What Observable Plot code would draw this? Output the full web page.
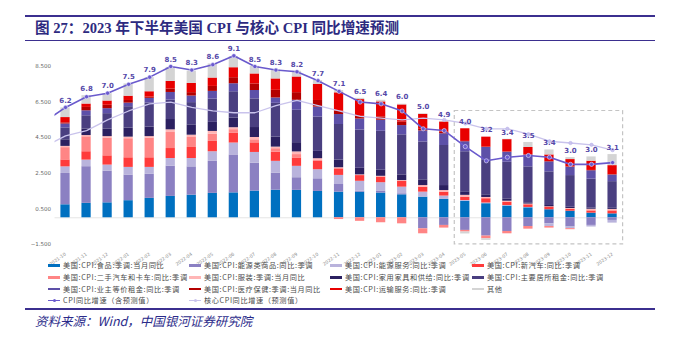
<!DOCTYPE html>
<html><head><meta charset="utf-8">
<script src="https://cdn.jsdelivr.net/npm/d3@7"></script>
<script src="https://cdn.jsdelivr.net/npm/@observablehq/plot@0.6"></script>
<style>
body{margin:0;background:#fff;}
#wrap{position:relative;width:685px;height:348px;overflow:hidden;font-family:"Noto Sans CJK SC",sans-serif;}
.hline{position:absolute;left:25px;width:630px;background:#3b2f8f;}
#title{position:absolute;left:35px;top:20px;font-weight:bold;font-size:14.6px;font-family:"Liberation Serif","Noto Sans CJK SC",serif;color:#2d2a80;white-space:nowrap;line-height:16px;}
#chart{position:absolute;left:0;top:42px;}
.lg{position:absolute;font-size:7.2px;letter-spacing:0.6px;color:#4a4a4a;white-space:nowrap;line-height:8px;}
.sw{position:absolute;width:12px;}
#src{position:absolute;left:35px;top:313px;font-size:12.5px;font-style:italic;color:#2b2b8a;white-space:nowrap;line-height:16px;}
</style></head><body>
<div id="wrap">
  <div class="hline" style="top:15px;height:1.6px"></div>
  <div id="title">图 27：2023 年下半年美国 CPI 与核心 CPI 同比增速预测</div>
  <div class="hline" style="top:39.5px;height:1.6px"></div>
  <div id="chart"></div>
  <div id="legend"></div>
  <div class="hline" style="top:308px;height:1.8px"></div>
  <div id="src">资料来源：Wind，中国银河证券研究院</div>
</div>
<script>
const months = ["2021-10","2021-11","2021-12","2022-01","2022-02","2022-03","2022-04","2022-05","2022-06","2022-07","2022-08","2022-09","2022-10","2022-11","2022-12","2023-01","2023-02","2023-03","2023-04","2023-05","2023-06","2023-07","2023-08","2023-09","2023-10","2023-11","2023-12"];
const seriesNames = ["美国:CPI:食品:季调:当月同比","美国:CPI:能源类商品:同比:季调","美国:CPI:能源服务:同比:季调","美国:CPI:新汽车:同比:季调","美国:CPI:二手汽车和卡车:同比:季调","美国:CPI:服装:季调:当月同比","美国:CPI:家用家具和供给:同比:季调","美国:CPI:主要居所租金:同比:季调","美国:CPI:业主等价租金:同比:季调","美国:CPI:医疗保健:季调:当月同比","美国:CPI:运输服务:同比:季调","其他"];
const seriesColors = ["#0070c0","#8b80c2","#b9b3dc","#ff3b3b","#ff8585","#ffb6b6","#2b2060","#4a3f80","#5d50a8","#b40000","#e80000","#d4d4d4"];
const food = [0.73,0.81,0.84,0.96,1.09,1.20,1.27,1.37,1.40,1.50,1.55,1.54,1.48,1.44,1.44,1.39,1.29,1.16,1.03,0.92,0.79,0.66,0.56,0.45,0.37,0.26,0.22];
const energyGoods = [1.76,2.06,1.78,1.44,1.35,1.70,1.59,1.80,2.13,1.57,0.96,0.71,0.71,0.43,0.05,0.09,0.06,-0.62,-0.43,-0.71,-1.03,-0.77,-0.49,-0.34,-0.52,-0.43,-0.15];
const energyServices = [0.37,0.37,0.34,0.43,0.39,0.43,0.47,0.54,0.67,0.60,0.66,0.64,0.51,0.51,0.56,0.49,0.37,0.28,0.19,0.05,0.04,0.03,0.02,-0.15,-0.09,-0.09,-0.15];
const newCars = [0.39,0.47,0.52,0.54,0.54,0.56,0.62,0.58,0.56,0.54,0.52,0.47,0.47,0.37,0.32,0.32,0.32,0.28,0.22,0.19,0.24,0.19,0.15,0.15,0.11,0.11,0.15];
const usedCars = [0.69,0.84,0.99,1.07,1.10,0.90,0.56,0.41,0.19,0.17,0.19,0.19,0.06,-0.10,-0.20,-0.28,-0.34,-0.28,-0.15,-0.09,-0.15,-0.13,-0.15,-0.09,-0.06,0.07,0.07];
const apparel = [0.07,0.07,0.09,0.09,0.09,0.15,0.13,0.15,0.11,0.13,0.09,0.15,0.09,0.06,0.04,0.04,0.05,0.09,0.09,0.10,0.07,0.05,0.04,0.02,0.04,0.04,0.03];
const furnishings = [0.37,0.36,0.43,0.51,0.54,0.58,0.58,0.51,0.54,0.56,0.56,0.52,0.41,0.43,0.37,0.34,0.32,0.32,0.28,0.20,0.15,0.13,0.07,0.07,0.07,0.06,0.06];
const rent = [0.67,0.75,0.86,1.20,1.35,1.09,1.25,1.31,1.48,1.61,1.90,1.82,1.93,2.00,2.15,2.19,2.25,2.13,2.25,2.25,1.97,2.06,2.02,1.89,1.78,1.63,1.50];
const oer = [0.22,0.28,0.28,0.20,0.26,0.43,0.37,0.43,0.45,0.47,0.30,0.56,0.56,0.56,0.62,0.62,0.52,0.62,0.66,0.56,0.69,0.56,0.66,0.56,0.47,0.47,0.37];
const medical = [0.06,0.19,0.19,0.15,0.07,0.19,0.19,0.28,0.34,0.37,0.43,0.43,0.37,0.19,0.15,0.19,0.19,0.09,0.10,0.02,0.02,0.02,0.02,0.02,0.02,0.02,0.02];
const transport = [0.30,0.19,0.24,0.24,0.30,0.43,0.52,0.47,0.56,0.56,0.64,0.88,0.90,1.03,0.94,0.84,0.97,0.84,0.56,0.71,0.56,0.69,0.41,0.37,0.41,0.52,0.51];
const other = [0.54,0.47,0.41,0.69,0.79,0.79,0.69,0.79,0.62,0.43,0.49,0.32,0.22,0.13,0.07,0.09,0.04,0.03,0.02,-0.11,-0.09,0.02,0.28,0.28,0.11,0.24,0.62];
// line series include the preceding month 2021-09 (clipped at the left edge)
const lineMonths = ["2021-09", ...months];
const cpi = [5.4,6.2,6.8,7.0,7.5,7.9,8.5,8.3,8.6,9.1,8.5,8.3,8.2,7.7,7.1,6.5,6.4,6.0,5.0,4.9,4.0,3.2,3.4,3.5,3.4,3.0,3.0,3.1];
const core = [4.0,4.6,4.9,5.5,6.0,6.4,6.5,6.2,6.0,5.9,5.9,6.3,6.6,6.3,6.0,5.7,5.6,5.5,5.6,5.5,5.3,5.0,5.0,4.7,4.3,4.2,4.1,3.8];
const lineNames = ["CPI同比增速（含预测值）","核心CPI同比增速（预测值）"];
const yTicks = [-1.5,0.5,2.5,4.5,6.5,8.5];
const forecastFrom = "2023-05";

const seriesValues = [food,energyGoods,energyServices,newCars,usedCars,apparel,furnishings,rent,oer,medical,transport,other];
const stackData = [];
seriesValues.forEach((vals, s) => vals.forEach((v, i) => stackData.push({i, series: seriesNames[s], value: v})));
const lineData = lineMonths.map((m, k) => ({i: k - 1, cpi: cpi[k], core: core[k]}));
const posSum = months.map((m, i) => d3.sum(seriesValues, vals => Math.max(0, vals[i])));
const labelData = months.map((m, i) => ({i, v: cpi[i + 1], top: Math.max(cpi[i + 1], posSum[i])}));
const fIdx = months.indexOf(forecastFrom);

const cpiColor = "#6a5acd", coreColor = "#c9c3ec";

const chart = Plot.plot({
  width: 685, height: 226,
  marginTop: 4.4, marginBottom: 17.8, marginLeft: 54.5, marginRight: 62.4,
  style: {fontFamily: "DejaVu Sans", background: "transparent"},
  x: {type: "linear", domain: [-0.5, months.length - 0.5], axis: null},
  y: {domain: [-1.85, 9.6], axis: null},
  color: {domain: seriesNames, range: seriesColors},
  marks: [
    Plot.ruleY([0], {stroke: "#e6e6e6", strokeWidth: 1}),
    Plot.rectY(stackData, {x1: d => d.i - 0.5, x2: d => d.i + 0.5, y: "value", z: "series", fill: "series", insetLeft: 5.9, insetRight: 5.9}),
    Plot.rect([0], {x1: fIdx - 0.5, x2: months.length - 0.5, y1: yTicks[0], y2: 6.0, fill: "none", stroke: "#c4c4c4", strokeWidth: 1.2, strokeDasharray: "4,3"}),
    Plot.line(lineData, {x: "i", y: "core", stroke: coreColor, strokeWidth: 1.3, clip: true}),
    Plot.dot(lineData.filter(d => d.i >= fIdx - 1), {x: "i", y: "core", r: 1.7, fill: coreColor, stroke: "#b5acea", strokeWidth: 0.5}),
    Plot.line(lineData, {x: "i", y: "cpi", stroke: cpiColor, strokeWidth: 1.6, clip: true}),
    Plot.dot(lineData.filter(d => d.i >= 0), {x: "i", y: "cpi", r: 2.1, fill: cpiColor, stroke: "#e8e4ff", strokeWidth: 0.6}),
    Plot.text(labelData, {x: "i", y: "top", text: d => d3.format(".1f")(d.v), dy: -7, fontSize: 7, fontWeight: "bold", fill: "#5548a8"}),
    Plot.axisY({ticks: yTicks, tickFormat: d3.format(".3f"), tickSize: 0, tickPadding: 4, fontSize: 5.5, color: "#666", label: null}),
    Plot.axisX({ticks: d3.range(months.length), tickFormat: i => months[i], tickRotate: -35, tickSize: 0, tickPadding: 3, fontSize: 4.6, color: "#888", label: null})
  ]
});
document.getElementById("chart").appendChild(chart);

// legend
const legend = document.getElementById("legend");
const colX = [48, 189, 330, 472];
const rowY = [265.7, 277.7, 289, 300.7];
const items = seriesNames.map((n, k) => ({name: n, color: seriesColors[k], kind: "bar"}))
  .concat([{name: lineNames[0], color: cpiColor, kind: "line"}, {name: lineNames[1], color: coreColor, kind: "line"}]);
items.forEach((it, k) => {
  const x = colX[k % 4], y = rowY[Math.floor(k / 4)];
  const sw = document.createElement("div");
  sw.className = "sw";
  if (it.kind === "bar") {
    sw.style.cssText = `left:${x}px;top:${y - 1.3}px;height:2.6px;background:${it.color}`;
  } else {
    sw.style.cssText = `left:${x}px;top:${y - 0.6}px;height:1.2px;background:${it.color}`;
    const mk = document.createElement("div");
    mk.style.cssText = `position:absolute;left:${x + 4.5}px;top:${y - 1.6}px;width:3.2px;height:3.2px;border-radius:50%;background:${it.color}`;
    legend.appendChild(mk);
  }
  legend.appendChild(sw);
  const t = document.createElement("div");
  t.className = "lg";
  t.style.left = (x + 15) + "px";
  t.style.top = (y - 4.5) + "px";
  t.textContent = it.name;
  legend.appendChild(t);
});
</script>
</body></html>
